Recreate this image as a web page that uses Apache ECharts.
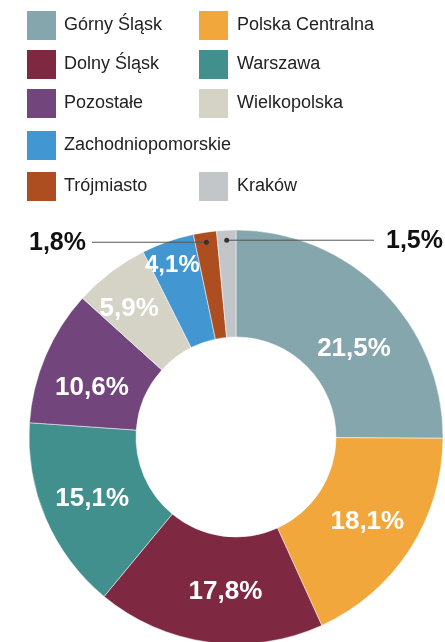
<!DOCTYPE html>
<html>
<head>
    <meta charset="utf-8">
    <title>Udział regionów</title>
    <script src="https://cdn.jsdelivr.net/npm/echarts@6/dist/echarts.min.js"></script>
    <style>
        html, body { margin: 0; padding: 0; background: #fff; }
        #chart { width: 445px; height: 642px; }
    </style>
</head>
<body>
<div id="chart"></div>
<script>
    // regiony, zgodnie z ruchem wskazówek zegara od godziny 12
    const regions = ['Górny Śląsk', 'Polska Centralna', 'Dolny Śląsk', 'Warszawa', 'Pozostałe',
        'Wielkopolska', 'Zachodniopomorskie', 'Trójmiasto', 'Kraków'];
    const shares = [25.1, 18.1, 17.8, 15.1, 10.6, 5.9, 4.1, 1.8, 1.5];
    // etykiety tak jak są wydrukowane na wykresie
    const shareLabels = ['21,5%', '18,1%', '17,8%', '15,1%', '10,6%', '5,9%', '4,1%', '1,8%', '1,5%'];
    const colors = ['#85a6ac', '#f2a73d', '#7f2841', '#41908e', '#72457c',
        '#d5d3c6', '#4297d3', '#ad4e20', '#c3c6c9'];
    // wiersze legendy (dwie kolumny)
    const legendRows = [
        ['Górny Śląsk', 'Polska Centralna'],
        ['Dolny Śląsk', 'Warszawa'],
        ['Pozostałe', 'Wielkopolska'],
        ['Zachodniopomorskie'],
        ['Trójmiasto', 'Kraków']
    ];
    // wycinki z etykietą na zewnątrz
    const outsideItems = [7, 8];

    const FONT = '"Liberation Sans", Arial, Helvetica, sans-serif';
    const cx = 236, cy = 437, r0 = 100, r1 = 207;
    const legendTops = [9, 48, 87, 129, 170];
    const legendLefts = [25, 197];
    // ręczne przesunięcia etykiet wewnątrz wycinków (jak w oryginale)
    const labelNudge = {0: [7, 22], 2: [10, 0], 4: [0, 12], 5: [-12, -4], 6: [-12, -24]};

    const total = shares.reduce((a, b) => a + b, 0);
    // punkt na środku wycinka i w odległości r od środka
    function slicePoint(i, r) {
        let before = 0;
        for (let k = 0; k < i; k++) before += shares[k];
        const t = (before + shares[i] / 2) / total * 2 * Math.PI;
        return [cx + r * Math.sin(t), cy - r * Math.cos(t)];
    }

    const legends = [];
    legendRows.forEach((row, ri) => {
        row.forEach((name, ci) => {
            legends.push({
                data: [name],
                left: legendLefts[ci],
                top: legendTops[ri],
                padding: 0,
                icon: 'rect',
                itemWidth: 31,
                itemHeight: 31,
                selectedMode: false,
                textStyle: {fontFamily: FONT, fontSize: 18, color: '#222', padding: [0, 0, 0, ci ? 3 : 2]}
            });
        });
    });

    const pieData = regions.map((name, i) => {
        const item = {name: name, value: shares[i], itemStyle: {color: colors[i]}};
        if (outsideItems.includes(i)) {
            item.label = {position: 'outside', color: '#111', fontSize: 25};
        } else if (labelNudge[i]) {
            item.label = {offset: labelNudge[i]};
        }
        if (i === 6) item.label.fontSize = 24;
        return item;
    });

    // linie odniesienia z kropką dla małych wycinków
    const guides = [];
    outsideItems.forEach(i => {
        const p = slicePoint(i, 197);
        const lineEnd = i === 7 ? 92 : 374;
        guides.push({type: 'polyline', z: 100, shape: {points: [[p[0], p[1]], [lineEnd, p[1]]]},
            style: {stroke: '#555', lineWidth: 1, fill: null}});
        guides.push({type: 'circle', z: 101, shape: {cx: p[0], cy: p[1], r: 2.5}, style: {fill: '#333'}});
    });

    let myChart = echarts.init(document.getElementById('chart'));
    myChart.setOption({
        animation: false,
        legend: legends,
        graphic: guides,
        series: [{
            type: 'pie',
            center: [cx, cy],
            radius: [r0, r1],
            startAngle: 90,
            clockwise: true,
            data: pieData,
            itemStyle: {borderColor: '#fff', borderWidth: 0.5},
            label: {
                position: 'inside',
                formatter: p => shareLabels[p.dataIndex],
                color: '#fff',
                fontFamily: FONT,
                fontWeight: 'bold',
                fontSize: 26
            },
            labelLine: {show: false},
            labelLayout: function (params) {
                const i = params.dataIndex;
                if (!outsideItems.includes(i)) return {};
                const p = slicePoint(i, 197);
                const left = i === 7;
                return {
                    x: left ? 86 : 386,
                    y: p[1] + 1,
                    align: left ? 'right' : 'left',
                    verticalAlign: 'middle'
                };
            }
        }]
    });
</script>
</body>
</html>
